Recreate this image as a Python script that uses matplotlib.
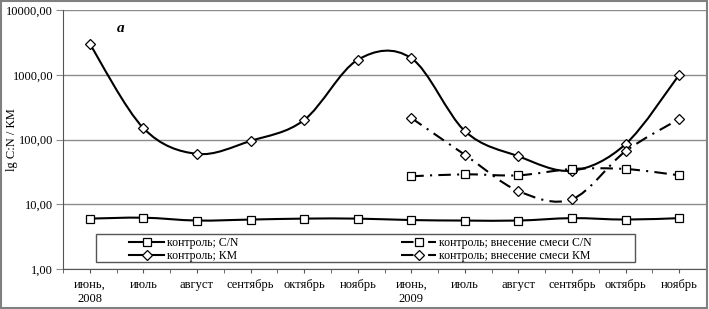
import numpy as np
import matplotlib
matplotlib.use('Agg')
import matplotlib.pyplot as plt
from matplotlib.path import Path
from matplotlib.patches import PathPatch, Rectangle
from matplotlib.lines import Line2D
from matplotlib.ticker import FixedLocator, FuncFormatter, NullFormatter

plt.rcParams['font.family'] = ['Liberation Serif', 'DejaVu Serif']

# Data
months = ['июнь,\n2008', 'июль', 'август', 'сентябрь', 'октябрь', 'ноябрь',
          'июнь,\n2009', 'июль', 'август', 'сентябрь', 'октябрь', 'ноябрь']
cn_control = [6.0, 6.2, 5.6, 5.8, 6.0, 6.0, 5.7, 5.6, 5.6, 6.1, 5.8, 6.1]
km_control = [3000, 150, 60, 95, 200, 1700, 1800, 135, 55, 33, 85, 1000]
mix_pos = [6, 7, 8, 9, 10, 11]
cn_mix = [27, 29, 28, 35, 35, 28]
km_mix = [215, 58, 16, 12, 66, 207]


def smooth_patch(x, y, **kw):
    # Excel-like smoothed line: Catmull-Rom segments drawn as cubic Beziers in log space
    x = np.asarray(x, float)
    ly = np.log10(np.asarray(y, float))
    n = len(x)
    verts = [(x[0], ly[0])]
    codes = [Path.MOVETO]
    for i in range(n - 1):
        p0 = (x[max(i - 1, 0)], ly[max(i - 1, 0)])
        p1 = (x[i], ly[i])
        p2 = (x[i + 1], ly[i + 1])
        p3 = (x[min(i + 2, n - 1)], ly[min(i + 2, n - 1)])
        c1 = (p1[0] + (p2[0] - p0[0]) / 6, p1[1] + (p2[1] - p0[1]) / 6)
        c2 = (p2[0] - (p3[0] - p1[0]) / 6, p2[1] - (p3[1] - p1[1]) / 6)
        verts += [c1, c2, p2]
        codes += [Path.CURVE4] * 3
    verts = [(vx, 10 ** vy) for vx, vy in verts]
    return PathPatch(Path(verts, codes), fill=False, **kw)


fig = plt.figure(figsize=(7.09, 3.09), dpi=100)
ax = fig.add_axes([63 / 709, 40 / 309, 643 / 709, 259 / 309])
ax.set_yscale('log')
ax.set_ylim(1, 10000)
ax.set_xlim(-0.5, 11.5)

xs = np.arange(len(months))
dashdot = (0, (6, 3, 1, 3))

ax.add_patch(smooth_patch(xs, cn_control, lw=1.5, color='black', zorder=3))
ax.add_patch(smooth_patch(xs, km_control, lw=1.5, color='black', zorder=3))
ax.add_patch(smooth_patch(mix_pos, cn_mix, lw=1.5, color='black', linestyle=dashdot, zorder=3))
ax.add_patch(smooth_patch(mix_pos, km_mix, lw=1.5, color='black', linestyle=dashdot, zorder=3))

mk = dict(linestyle='none', mfc='white', mec='black', mew=0.9, zorder=4)
ax.plot(xs, cn_control, marker='s', ms=6, **mk)
ax.plot(xs, km_control, marker='D', ms=5, **mk)
ax.plot(mix_pos, cn_mix, marker='s', ms=6, **mk)
ax.plot(mix_pos, km_mix, marker='D', ms=5, **mk)

# axes styling
ax.yaxis.set_major_locator(FixedLocator([1, 10, 100, 1000, 10000]))
ax.yaxis.set_minor_formatter(NullFormatter())
ax.yaxis.set_minor_locator(FixedLocator([]))
ax.yaxis.set_major_formatter(FuncFormatter(lambda v, p: f'{v:.2f}'.replace('.', ',')))
ax.grid(axis='y', color='#8c8c8c', lw=1)
ax.set_axisbelow(True)
ax.set_xticks(xs)
ax.set_xticklabels(months, fontsize=9, linespacing=1.2)
ax.set_xticks(np.arange(-0.5, 12, 1), minor=True)
ax.tick_params(axis='x', which='both', length=3, color='#555555', pad=4)
ax.tick_params(axis='y', length=5, color='#8c8c8c', labelsize=9, pad=2)
for s in ['top', 'right']:
    ax.spines[s].set_visible(False)
for s in ['left', 'bottom']:
    ax.spines[s].set_color('#555555')
ax.set_ylabel('lg C:N / КМ', fontsize=9)
ax.yaxis.set_label_coords(-0.07, 0.5)

ax.text(0.089, 0.93, 'а', transform=ax.transAxes, fontsize=11,
        fontweight='bold', fontstyle='italic', ha='center', va='center')

# legend: frame plus two columns
def handle(style, marker, ms):
    return Line2D([], [], color='black', lw=1.5, linestyle=style, marker=marker,
                  ms=ms, mfc='white', mec='black', mew=0.9)

leg_kw = dict(fontsize=8.5, frameon=False, borderpad=0, borderaxespad=0,
              handlelength=3.0, handletextpad=0.2, labelspacing=0.1, loc='upper left')
leg1 = ax.legend([handle('-', 's', 6), handle('-', 'D', 5)],
                 ['контроль; C/N', 'контроль; КМ'],
                 bbox_to_anchor=(66 / 643, 32 / 259), **leg_kw)
leg1.set_zorder(7)
ax.add_artist(leg1)
leg2 = ax.legend([handle(dashdot, 's', 6), handle(dashdot, 'D', 5)],
                 ['контроль; внесение смеси C/N', 'контроль; внесение смеси КМ'],
                 bbox_to_anchor=(338 / 643, 32 / 259), **leg_kw)
leg2.set_zorder(7)
ax.add_patch(Rectangle((33 / 643, 7 / 259), 539 / 643, 28 / 259, transform=ax.transAxes,
                       facecolor='white', edgecolor='#555555', lw=1, zorder=5))

fig.patches.append(Rectangle((0.001, 0.002), 0.996, 0.995, transform=fig.transFigure,
                             fill=False, edgecolor='#808080', lw=1.5))

plt.savefig('out.png', dpi=100)
